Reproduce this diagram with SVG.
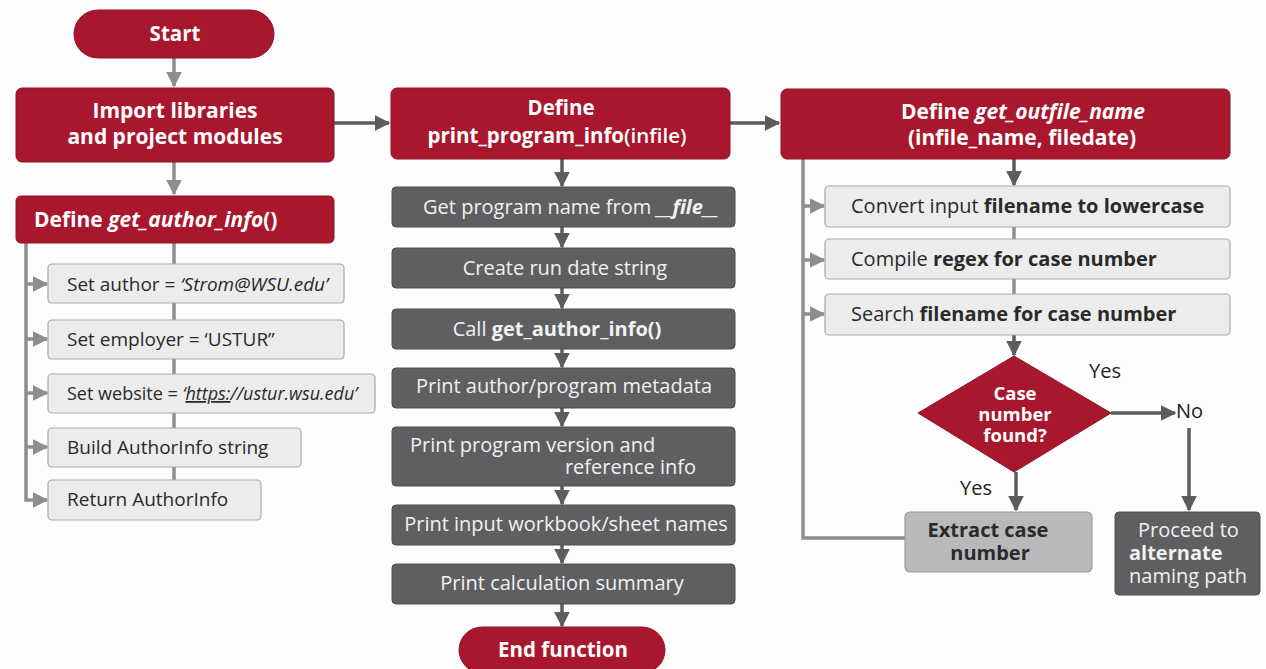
<svg xmlns="http://www.w3.org/2000/svg" width="1266" height="669" viewBox="0 0 1266 669">
  <defs>
    <marker id="ahLight" viewBox="0 0 10 10" refX="9" refY="5" markerWidth="4.5" markerHeight="4.5" orient="auto" markerUnits="strokeWidth">
      <path d="M0,0 L10,5 L0,10 z" fill="#8e8e8e"/>
    </marker>
    <marker id="ahDark" viewBox="0 0 10 10" refX="9" refY="5" markerWidth="4.5" markerHeight="4.5" orient="auto" markerUnits="strokeWidth">
      <path d="M0,0 L10,5 L0,10 z" fill="#5c5c5e"/>
    </marker>
    <style>
      text { font-family: "Open Sans", "Noto Sans", "DejaVu Sans", sans-serif; }
      .red { fill: #a8172d; stroke: #8f1426; stroke-width: 1; }
      .dark { fill: #5f5f61; stroke: #4e4e50; stroke-width: 1; }
      .light { fill: #ececec; stroke: #a9a9a9; stroke-width: 1.2; }
      .mid { fill: #b9b9bb; stroke: #9a9a9a; stroke-width: 1.2; }
      .tw { fill: #ffffff; font-weight: 700; }
      .tg { fill: #f1f1f1; font-size: 20px; }
      .tl { fill: #2a2a2a; font-size: 19px; }
      .tr { fill: #2a2a2a; font-size: 20px; }
      .cl { stroke: #8e8e8e; stroke-width: 3.5; fill: none; }
      .cd { stroke: #5c5c5e; stroke-width: 3.5; fill: none; }
      .lbl { fill: #222; font-size: 20px; }
    </style>
  </defs>

  <rect width="1266" height="669" fill="#fdfdfd"/>

  <!-- connectors -->
  <g id="connectors">
    <!-- left column -->
    <line class="cl" x1="174" y1="58" x2="174" y2="86" marker-end="url(#ahLight)"/>
    <line class="cl" x1="174" y1="162" x2="174" y2="194" marker-end="url(#ahLight)"/>
    <line class="cl" x1="174" y1="243" x2="174" y2="482"/>
    <polyline class="cl" points="26,243 26,500 47,500" marker-end="url(#ahLight)"/>
    <line class="cl" x1="26" y1="284" x2="47" y2="284" marker-end="url(#ahLight)"/>
    <line class="cl" x1="26" y1="339" x2="47" y2="339" marker-end="url(#ahLight)"/>
    <line class="cl" x1="26" y1="393" x2="47" y2="393" marker-end="url(#ahLight)"/>
    <line class="cl" x1="26" y1="447" x2="47" y2="447" marker-end="url(#ahLight)"/>
    <!-- column links -->
    <line class="cd" x1="334" y1="123" x2="389" y2="123" marker-end="url(#ahDark)"/>
    <line class="cd" x1="730" y1="123" x2="779" y2="123" marker-end="url(#ahDark)"/>
    <!-- middle column -->
    <line class="cd" x1="562" y1="159" x2="562" y2="186" marker-end="url(#ahDark)"/>
    <line class="cd" x1="562" y1="227" x2="562" y2="247" marker-end="url(#ahDark)"/>
    <line class="cd" x1="562" y1="288" x2="562" y2="308" marker-end="url(#ahDark)"/>
    <line class="cd" x1="562" y1="349" x2="562" y2="367" marker-end="url(#ahDark)"/>
    <line class="cd" x1="562" y1="408" x2="562" y2="426" marker-end="url(#ahDark)"/>
    <line class="cd" x1="562" y1="486" x2="562" y2="504" marker-end="url(#ahDark)"/>
    <line class="cd" x1="562" y1="545" x2="562" y2="563" marker-end="url(#ahDark)"/>
    <line class="cd" x1="562" y1="604" x2="562" y2="626" marker-end="url(#ahDark)"/>
    <!-- right column -->
    <line class="cd" x1="1014" y1="159" x2="1014" y2="185" marker-end="url(#ahDark)"/>
    <line class="cl" x1="1014" y1="227" x2="1014" y2="294"/>
    <line class="cd" x1="1014" y1="335" x2="1014" y2="355" marker-end="url(#ahDark)"/>
    <polyline class="cl" points="803,159 803,538 905,538"/>
    <line class="cl" x1="803" y1="206" x2="824" y2="206" marker-end="url(#ahLight)"/>
    <line class="cl" x1="803" y1="260" x2="824" y2="260" marker-end="url(#ahLight)"/>
    <line class="cl" x1="803" y1="314" x2="824" y2="314" marker-end="url(#ahLight)"/>
    <line class="cd" x1="1016" y1="472" x2="1016" y2="510" marker-end="url(#ahDark)"/>
    <line class="cd" x1="1111" y1="413" x2="1175" y2="413" marker-end="url(#ahDark)"/>
    <line class="cd" x1="1189" y1="428" x2="1189" y2="510" marker-end="url(#ahDark)"/>
    <text class="lbl" x="1089" y="378">Yes</text>
    <text class="lbl" x="1176" y="418">No</text>
    <text class="lbl" x="960" y="495">Yes</text>
  </g>

  <!-- left column nodes -->
  <g id="start">
    <rect class="red" x="74" y="10" width="200" height="48" rx="24"/>
    <text class="tw" x="175" y="41" font-size="20.5" text-anchor="middle">Start</text>
  </g>
  <g id="import">
    <rect class="red" x="16" y="88" width="318" height="74" rx="6"/>
    <text class="tw" x="175" y="118" font-size="21" text-anchor="middle">Import libraries</text>
    <text class="tw" x="175" y="144" font-size="21" text-anchor="middle">and project modules</text>
  </g>
  <g id="get_author_info">
    <rect class="red" x="16" y="196" width="318" height="47" rx="5"/>
    <text class="tw" x="34" y="227" font-size="21">Define <tspan font-style="italic">get_author_info</tspan>()</text>
  </g>
  <g id="set_author">
    <rect class="light" x="48" y="264" width="296" height="39" rx="4"/>
    <text class="tl" x="67" y="291">Set author = <tspan font-style="italic">‘Strom@WSU.edu’</tspan></text>
  </g>
  <g id="set_employer">
    <rect class="light" x="48" y="320" width="296" height="39" rx="4"/>
    <text class="tl" x="67" y="346">Set employer = ‘USTUR”</text>
  </g>
  <g id="set_website">
    <rect class="light" x="48" y="374" width="327" height="39" rx="4"/>
    <text x="67" y="400" fill="#2a2a2a" font-size="18">Set website = <tspan font-style="italic">‘<tspan text-decoration="underline">https:</tspan>//ustur.wsu.edu’</tspan></text>
  </g>
  <g id="build_authorinfo">
    <rect class="light" x="48" y="428" width="253" height="39" rx="4"/>
    <text class="tl" x="67" y="454">Build AuthorInfo string</text>
  </g>
  <g id="return_authorinfo">
    <rect class="light" x="48" y="480" width="213" height="40" rx="4"/>
    <text class="tl" x="67" y="506">Return AuthorInfo</text>
  </g>

  <!-- middle column nodes -->
  <g id="print_program_info">
    <rect class="red" x="391" y="88" width="339" height="71" rx="6"/>
    <text class="tw" x="561" y="115" font-size="20.5" text-anchor="middle">Define</text>
    <text class="tw" x="557" y="143" font-size="20.5" text-anchor="middle">print_program_info<tspan font-weight="600">(infile)</tspan></text>
  </g>
  <g id="get_program_name">
    <rect class="dark" x="392" y="187" width="343" height="40" rx="4"/>
    <text class="tg" x="571" y="214" text-anchor="middle">Get program name from <tspan font-weight="700" font-style="italic">__file__</tspan></text>
  </g>
  <g id="run_date">
    <rect class="dark" x="392" y="248" width="343" height="40" rx="4"/>
    <text class="tg" x="565" y="275" text-anchor="middle">Create run date string</text>
  </g>
  <g id="call_author_info">
    <rect class="dark" x="392" y="309" width="343" height="40" rx="4"/>
    <text class="tg" x="557" y="336" text-anchor="middle">Call <tspan font-weight="700">get_author_info()</tspan></text>
  </g>
  <g id="print_metadata">
    <rect class="dark" x="392" y="368" width="343" height="40" rx="4"/>
    <text class="tg" x="564" y="393" text-anchor="middle">Print author/program metadata</text>
  </g>
  <g id="print_version">
    <rect class="dark" x="392" y="427" width="343" height="59" rx="4"/>
    <text class="tg" x="410" y="452">Print program version and</text>
    <text class="tg" x="696" y="474" text-anchor="end">reference info</text>
  </g>
  <g id="print_workbook">
    <rect class="dark" x="392" y="505" width="343" height="40" rx="4"/>
    <text class="tg" x="566" y="531" text-anchor="middle">Print input workbook/sheet names</text>
  </g>
  <g id="print_summary">
    <rect class="dark" x="392" y="564" width="343" height="40" rx="4"/>
    <text class="tg" x="562" y="590" text-anchor="middle">Print calculation summary</text>
  </g>
  <g id="end_function">
    <rect class="red" x="459" y="627" width="206" height="46" rx="23"/>
    <text class="tw" x="563" y="657" font-size="20.5" text-anchor="middle">End function</text>
  </g>

  <!-- right column nodes -->
  <g id="get_outfile_name">
    <rect class="red" x="781" y="89" width="449" height="70" rx="6"/>
    <text class="tw" x="1023" y="119" font-size="21" text-anchor="middle">Define <tspan font-style="italic">get_outfile_name</tspan></text>
    <text class="tw" x="1022" y="145" font-size="21" text-anchor="middle">(infile_name, filedate)</text>
  </g>
  <g id="lowercase">
    <rect class="light" x="825" y="186" width="405" height="41" rx="4"/>
    <text class="tr" x="851" y="213">Convert input <tspan font-weight="700">filename to lowercase</tspan></text>
  </g>
  <g id="regex">
    <rect class="light" x="825" y="239" width="405" height="40" rx="4"/>
    <text class="tr" x="851" y="266">Compile <tspan font-weight="700">regex for case number</tspan></text>
  </g>
  <g id="search">
    <rect class="light" x="825" y="294" width="405" height="41" rx="4"/>
    <text class="tr" x="851" y="321">Search <tspan font-weight="700">filename for case number</tspan></text>
  </g>
  <g id="case_found">
    <polygon class="red" points="1014,356 1111,413 1014,472 918,413"/>
    <text class="tw" x="1015" y="400" font-size="18.5" text-anchor="middle">Case</text>
    <text class="tw" x="1015" y="421" font-size="18.5" text-anchor="middle">number</text>
    <text class="tw" x="1015" y="442" font-size="18.5" text-anchor="middle">found?</text>
  </g>
  <g id="extract_case">
    <rect class="mid" x="905" y="512" width="187" height="60" rx="5"/>
    <text x="988" y="537" font-size="20" font-weight="700" fill="#2a2a2a" text-anchor="middle">Extract case</text>
    <text x="990" y="560" font-size="20" font-weight="700" fill="#2a2a2a" text-anchor="middle">number</text>
  </g>
  <g id="alternate_path">
    <rect class="dark" x="1115" y="512" width="145" height="83" rx="4"/>
    <text class="tg" x="1138" y="537">Proceed to</text>
    <text class="tg" x="1129" y="560" font-weight="700">alternate</text>
    <text class="tg" x="1129" y="583">naming path</text>
  </g>
</svg>
